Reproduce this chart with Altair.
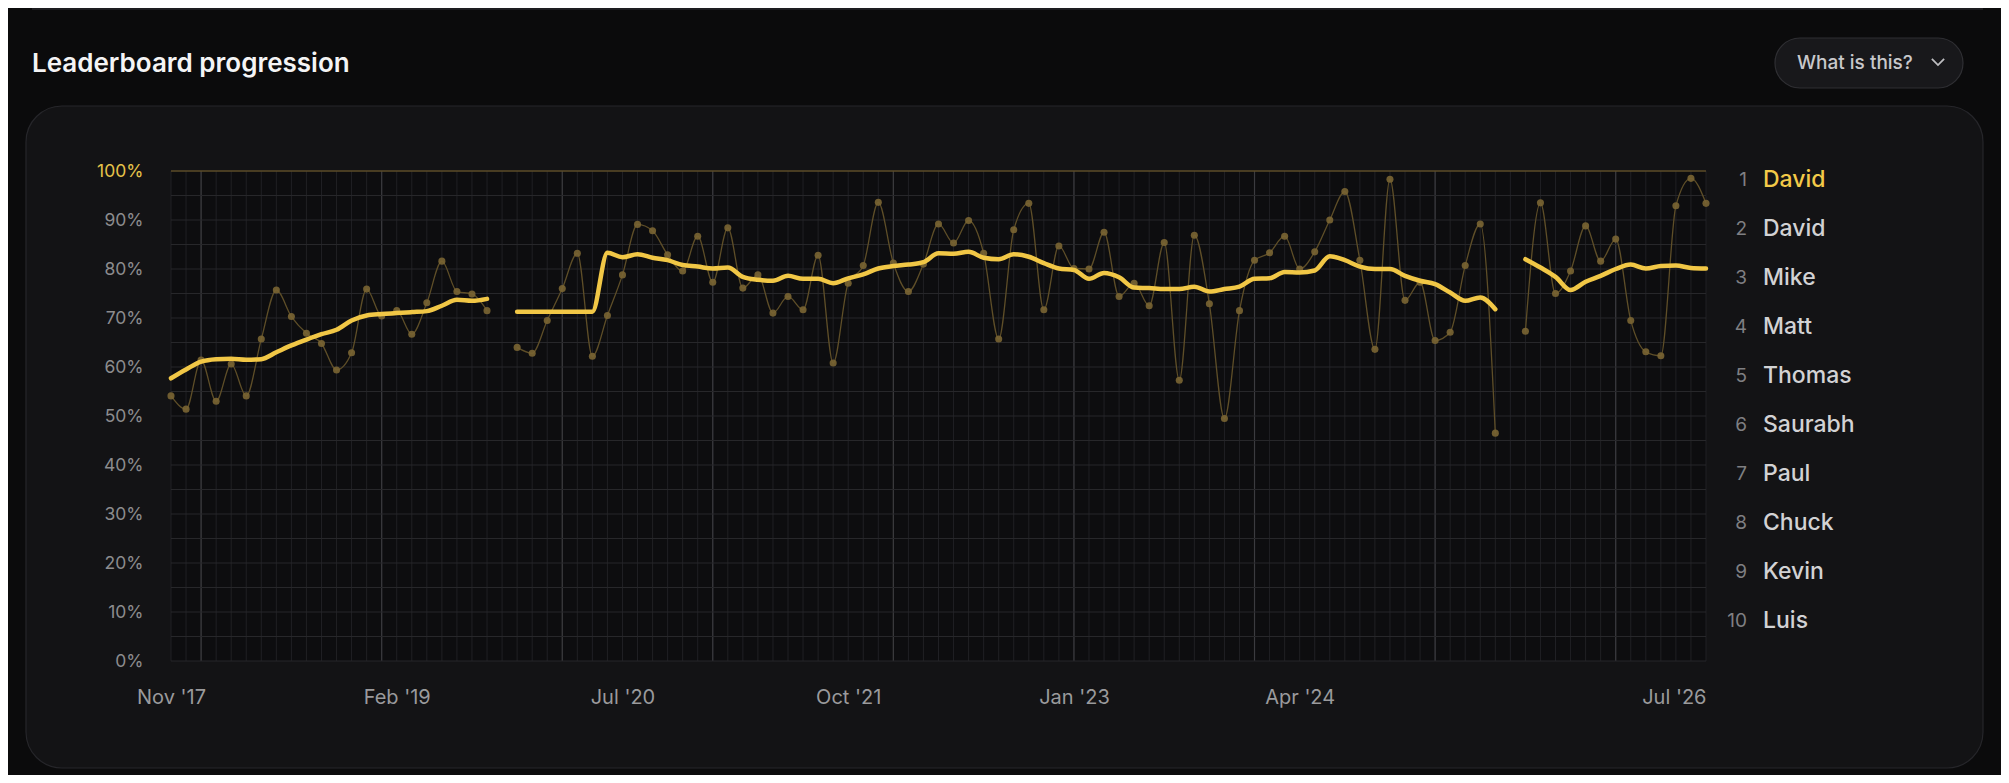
import altair as alt
import pandas as pd

# ---------------- data ----------------
pct = [
    54.1, 51.4, 61.4, 53.0, 60.6, 54.1, 65.7, 75.7, 70.3, 66.9,
    64.8, 59.4, 62.9, 75.9, 70.4, 71.5, 66.7, 73.1, 81.6, 75.4,
    74.9, 71.5, None, 64.0, 62.8, 69.5, 76.0, 83.2, 62.2, 70.5,
    78.8, 89.1, 87.8, 82.9, 79.6, 86.7, 77.3, 88.4, 76.1, 78.8,
    71.0, 74.4, 71.7, 82.8, 60.8, 77.1, 80.7, 93.6, 81.2, 75.4,
    81.0, 89.2, 85.3, 89.9, 83.2, 65.7, 88.0, 93.4, 71.7, 84.7,
    80.1, 80.0, 87.5, 74.4, 77.1, 72.5, 85.4, 57.3, 86.9, 72.9,
    49.5, 71.5, 81.8, 83.3, 86.7, 80.0, 83.5, 90.0, 95.8, 81.8,
    63.6, 98.3, 73.6, 77.3, 65.4, 67.1, 80.7, 89.2, 46.5, None,
    67.3, 93.5, 75.0, 79.6, 88.8, 81.6, 86.1, 69.5, 63.1, 62.3,
    92.9, 98.5, 93.4,
]
smooth = [
    57.7, 59.5, 61.1, 61.6, 61.7, 61.5, 61.6, 63.0, 64.4, 65.6,
    66.7, 67.6, 69.5, 70.5, 70.8, 71.0, 71.2, 71.4, 72.5, 73.7,
    73.5, 73.9, None, 71.3, 71.3, 71.3, 71.3, 71.3, 71.3, 83.3,
    82.4, 83.0, 82.3, 81.8, 80.8, 80.5, 80.1, 80.3, 78.4, 77.8,
    77.6, 78.6, 78.0, 78.0, 77.1, 78.1, 78.9, 80.1, 80.6, 80.9,
    81.4, 83.2, 83.1, 83.5, 82.3, 82.0, 83.0, 82.5, 81.2, 80.1,
    79.8, 78.0, 79.2, 78.3, 76.2, 76.1, 75.9, 75.9, 76.4, 75.4,
    75.9, 76.4, 78.0, 78.1, 79.4, 79.3, 79.7, 82.6, 81.8, 80.5,
    80.0, 80.0, 78.6, 77.6, 76.9, 75.2, 73.5, 74.2, 71.8, None,
    82.0, 80.3, 78.4, 75.7, 77.4, 78.6, 80.0, 80.9, 80.1, 80.6,
    80.7, 80.2, 80.1,
]
tick_idx = [0, 15, 30, 45, 60, 75, 102]
tick_labels = ["Nov '17", "Feb '19", "Jul '20", "Oct '21", "Jan '23", "Apr '24", "Jul '26"]
year_lines = [2, 14, 26, 36, 48, 60, 72, 84, 96]
ranks = [1, 2, 3, 4, 5, 6, 7, 8, 9, 10]
names = ["David", "David", "Mike", "Matt", "Thomas", "Saurabh", "Paul", "Chuck", "Kevin", "Luis"]
title_text = ["Leaderboard progression"]
button_text = ["What is this?"]

N = len(pct)
idx = list(range(N))

# segments (break at missing points)
def segments(vals):
    rows, seg = [], 0
    for i, v in zip(idx, vals):
        if v is None:
            seg += 1
            continue
        rows.append({"i": i, "v": v, "seg": seg})
    return pd.DataFrame(rows)

raw_df = segments(pct)
smooth_df = segments(smooth)

# ---------------- layout constants ----------------
W, H = 1535, 490
FONT = "Inter"

xscale = alt.Scale(domain=[0, N - 1], nice=False, zero=False)
yscale = alt.Scale(domain=[0, 100], nice=False, zero=True)

label_expr = " : ".join(
    f'datum.value == {v} ? "{t}"' for v, t in zip(tick_idx, tick_labels)
) + ' : ""'

x_axis = alt.Axis(
    values=tick_idx, labelExpr=label_expr, grid=False, domain=False, ticks=False,
    tickSize=0, labelPadding=36, labelFontSize=20, labelColor="#9a9a9c",
    labelFont=FONT, labelFlush=False, labelOverlap=False, title=None,
    labelBaseline="middle", zindex=5,
    labelAlign={"condition": {"test": f"datum.value == {N - 1}", "value": "right"}, "value": "center"},
)
y_axis = alt.Axis(
    values=list(range(0, 101, 10)), labelExpr="datum.value + '%'", grid=False,
    domain=False, ticks=False, tickSize=0, labelPadding=28, labelFontSize=17.5,
    labelFont=FONT, title=None, labelBaseline="middle", zindex=5,
    labelColor={"condition": {"test": "datum.value == 100", "value": "#e6c34a"}, "value": "#8c8c8e"},
)

one = pd.DataFrame({"a": [0]})

X = alt.X("i:Q", scale=xscale, axis=x_axis)
Yn = alt.Y("v:Q", scale=yscale, axis=None)

card = alt.Chart(one).mark_rect(
    fill="#131315", stroke="#26262a", strokeWidth=1.2, cornerRadius=36
).encode(x=alt.value(-145), x2=alt.value(1812), y=alt.value(-65), y2=alt.value(597))

plot_bg = alt.Chart(one).mark_rect(fill="#0d0d0f").encode(
    x=alt.value(0), x2=alt.value(W), y=alt.value(0), y2=alt.value(H)
)

sep = alt.Chart(one).mark_rule(color="#242427", strokeWidth=1.5).encode(
    x=alt.value(-139), x2=alt.value(1812), y=alt.value(-162)
)

xgrid = alt.Chart(pd.DataFrame({"i": idx})).mark_rule(color="#202024", strokeWidth=1).encode(x=X)
xmajor = alt.Chart(pd.DataFrame({"i": year_lines})).mark_rule(color="#3b3b3f", strokeWidth=1.2).encode(x=X)
ygrid = alt.Chart(pd.DataFrame({"v": list(range(0, 100, 5))})).mark_rule(
    color="#27272a", strokeWidth=1
).encode(y=Yn)
ytop = alt.Chart(pd.DataFrame({"v": [100]})).mark_rule(color="#5c4d28", strokeWidth=1.5).encode(y=Yn)

thin = alt.Chart(raw_df).mark_line(
    color="#5e4e28", strokeWidth=1.3, interpolate="monotone"
).encode(x=X, y=Yn, detail="seg:N")

dots = alt.Chart(raw_df).mark_circle(color="#7a6533", opacity=0.9, size=50).encode(
    x=X, y=alt.Y("v:Q", scale=yscale, axis=y_axis)
)

thick = alt.Chart(smooth_df).mark_line(
    color="#f1c746", strokeWidth=4.5, interpolate="monotone", strokeCap="round", strokeJoin="round"
).encode(x=X, y=Yn, detail="seg:N")

leg_df = pd.DataFrame({"rank": ranks, "name": names})
leg_y = alt.Y("rank:O", axis=None, scale=alt.Scale(range=[9, 450], padding=0))
leg_num = alt.Chart(leg_df).mark_text(
    align="right", baseline="middle", fontSize=19, font=FONT, color="#7f7f82"
).encode(x=alt.value(1576), y=leg_y, text="rank:N")
leg_name = alt.Chart(leg_df).mark_text(
    align="left", baseline="middle", fontSize=23, font=FONT, fontWeight=500
).encode(
    x=alt.value(1592), y=leg_y, text="name:N",
    color=alt.condition("datum.rank == 1", alt.value("#f3ca48"), alt.value("#d2d2d4")),
)

title = alt.Chart(pd.DataFrame({"t": title_text})).mark_text(
    align="left", baseline="middle", fontSize=26, fontWeight=600, font=FONT, color="#f4f4f5"
).encode(x=alt.value(-139), y=alt.value(-107), text="t:N")

btn = alt.Chart(one).mark_rect(
    fill="#18181b", stroke="#2f2f33", strokeWidth=1.2, cornerRadius=25
).encode(x=alt.value(1604), x2=alt.value(1792), y=alt.value(-133), y2=alt.value(-83))
btn_text = alt.Chart(pd.DataFrame({"t": button_text})).mark_text(
    align="left", baseline="middle", fontSize=19, fontWeight=500, font=FONT, color="#c8c8cb"
).encode(x=alt.value(1626), y=alt.value(-108), text="t:N")
chev = alt.Chart(one).mark_point(
    shape="M-1,-0.5L0,0.5L1,-0.5", filled=False, stroke="#bdbdc0", strokeWidth=1.8, size=150, opacity=1
).encode(x=alt.value(1767), y=alt.value(-109))

chart = alt.layer(
    card, plot_bg, sep, xgrid, xmajor, ygrid, ytop, thin, dots, thick,
    leg_num, leg_name, title, btn, btn_text, chev,
).resolve_scale(y="independent").properties(
    width=W, height=H,
    autosize=alt.AutoSizeParams(type="none"),
    padding={"left": 163, "top": 163, "right": 295, "bottom": 114},
    background="#0b0b0c",
).configure_view(stroke=None).configure(font=FONT)

chart.save("out.html", embed_options={"renderer": "svg", "actions": False})
